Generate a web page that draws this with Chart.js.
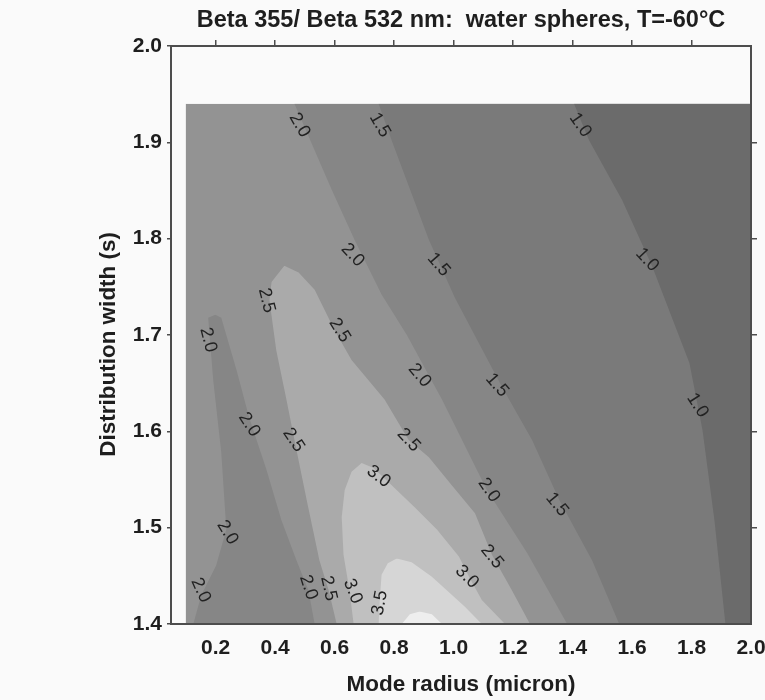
<!DOCTYPE html>
<html>
<head>
<meta charset="utf-8">
<script src="https://cdn.jsdelivr.net/npm/chart.js@4.4.1/dist/chart.umd.min.js"></script>
<style>
html,body{margin:0;padding:0;background:#fafafa;}
#wrap{width:765px;height:700px;position:relative;}
canvas{display:block;}
</style>
</head>
<body>
<div id="wrap"><canvas id="c" width="765" height="700"></canvas></div>
<script>
// ---- axis ticks ----
const xTickValues = [0.2, 0.4, 0.6, 0.8, 1.0, 1.2, 1.4, 1.6, 1.8, 2.0];
const yTickValues = [1.4, 1.5, 1.6, 1.7, 1.8, 1.9, 2.0];
const topTickValues = [0.2, 0.4, 0.6, 0.8, 1.0, 1.2, 1.4, 1.6, 1.8];
const rightTickValues = [1.5, 1.6, 1.7, 1.8, 1.9];

// ---- computed domain (mode radius x distribution width) ----
const domainX = [0.1, 2.0];
const domainY = [1.4, 1.94];

// ---- contour lines that run top to bottom: mode radius at each width ----
const c20Y = [1.400, 1.474, 1.539, 1.633, 1.700, 1.742, 1.799, 1.851, 1.940];
const c20X = [1.382, 1.247, 1.112, 0.961, 0.843, 0.758, 0.667, 0.590, 0.465];
const c15Y = [1.400, 1.466, 1.529, 1.591, 1.646, 1.739, 1.799, 1.902, 1.940];
const c15X = [1.557, 1.466, 1.355, 1.264, 1.163, 1.004, 0.917, 0.792, 0.748];
const c10Y = [1.400, 1.508, 1.601, 1.671, 1.771, 1.840, 1.902, 1.940];
const c10X = [1.914, 1.877, 1.837, 1.793, 1.668, 1.567, 1.456, 1.405];

// ---- closed "tongue" regions: left and right edges (bottom to tip) ----
const c25LeftY  = [1.400, 1.435, 1.466, 1.529, 1.591, 1.633, 1.684, 1.736, 1.755, 1.772];
const c25LeftX  = [0.607, 0.580, 0.549, 0.506, 0.465, 0.438, 0.404, 0.381, 0.388, 0.431];
const c25RightY = [1.400, 1.435, 1.472, 1.515, 1.544, 1.573, 1.591, 1.633, 1.674, 1.705, 1.747, 1.765, 1.772];
const c25RightX = [1.257, 1.196, 1.129, 1.072, 0.994, 0.917, 0.849, 0.768, 0.657, 0.600, 0.533, 0.479, 0.431];

const c30LeftY  = [1.400, 1.435, 1.472, 1.511, 1.539, 1.558, 1.567];
const c30LeftX  = [0.664, 0.650, 0.630, 0.624, 0.634, 0.657, 0.691];
const c30RightY = [1.400, 1.425, 1.449, 1.470, 1.498, 1.521, 1.544, 1.562, 1.567];
const c30RightX = [1.173, 1.095, 1.052, 1.018, 0.944, 0.870, 0.792, 0.731, 0.691];

const c35LeftY  = [1.400, 1.425, 1.451, 1.463, 1.468];
const c35LeftX  = [0.748, 0.752, 0.758, 0.779, 0.809];
const c35RightY = [1.400, 1.418, 1.435, 1.449, 1.464, 1.468];
const c35RightX = [1.095, 1.038, 0.977, 0.927, 0.859, 0.809];

const c40LeftY  = [1.400, 1.410, 1.413];
const c40LeftX  = [0.826, 0.853, 0.886];
const c40RightY = [1.400, 1.410, 1.413];
const c40RightX = [0.961, 0.927, 0.886];

// low (<2.0) strip on the left
const stripLeftY  = [1.400, 1.430, 1.461, 1.498, 1.578, 1.653, 1.718, 1.721];
const stripLeftX  = [0.125, 0.152, 0.202, 0.236, 0.219, 0.192, 0.175, 0.199];
const stripRightY = [1.400, 1.435, 1.466, 1.508, 1.560, 1.614, 1.664, 1.718, 1.721];
const stripRightX = [0.533, 0.512, 0.472, 0.421, 0.371, 0.313, 0.270, 0.219, 0.199];

// ---- contour labels ----
const labelText  = ["2.0","1.5","1.0","2.0","1.5","1.0","2.5","2.0","2.5","2.0","1.5","1.0","2.0","2.5","2.5","3.0","2.0","1.5","2.0","3.0","2.5","2.0","2.0","2.5","3.0","3.5"];
const labelX     = [0.482,0.752,1.426,0.661,0.950,1.651,0.371,0.175,0.617,0.886,1.146,1.820,0.313,0.462,0.849,0.748,1.119,1.348,0.240,1.045,1.129,0.150,0.512,0.580,0.661,0.752];
const labelY     = [1.918,1.918,1.918,1.783,1.773,1.778,1.736,1.695,1.705,1.658,1.648,1.627,1.607,1.591,1.591,1.553,1.539,1.524,1.495,1.449,1.470,1.435,1.438,1.437,1.434,1.422];
const labelAngle = [60,60,55,47,49,47,76,76,58,50,49,57,57,56,47,37,56,51,58,45,51,66,72,77,68,-80];

// ---- colours for each band ----
const colBase  = '#939393'; // 2.0 - 2.5
const col15_20 = '#868686';
const col10_15 = '#7a7a7a';
const colLt10  = '#6b6b6b';
const colStrip = '#868686';
const col25_30 = '#aaaaaa';
const col30_35 = '#c0c0c0';
const col35_40 = '#d6d6d6';
const colGt40  = '#eeeeee';

const pts = (xs, ys) => xs.map((x, i) => ({x: x, y: ys[i]}));
const common = {borderWidth: 0, pointRadius: 0, pointHoverRadius: 0, xAxisID: 'x', yAxisID: 'y', tension: 0};

const datasets = [
  {...common, data: pts(c40LeftX, c40LeftY), fill: '+1', backgroundColor: colGt40, order: 1},
  {...common, data: pts(c40RightX, c40RightY), fill: false, order: 1},
  {...common, data: pts(c35LeftX, c35LeftY), fill: '+1', backgroundColor: col35_40, order: 2},
  {...common, data: pts(c35RightX, c35RightY), fill: false, order: 2},
  {...common, data: pts(c30LeftX, c30LeftY), fill: '+1', backgroundColor: col30_35, order: 3},
  {...common, data: pts(c30RightX, c30RightY), fill: false, order: 3},
  {...common, data: pts(c25LeftX, c25LeftY), fill: '+1', backgroundColor: col25_30, order: 4},
  {...common, data: pts(c25RightX, c25RightY), fill: false, order: 4},
  {...common, data: pts(stripLeftX, stripLeftY), fill: '+1', backgroundColor: colStrip, order: 5},
  {...common, data: pts(stripRightX, stripRightY), fill: false, order: 5},
  {...common, data: pts(c10X, c10Y), fill: {value: domainX[1]}, backgroundColor: colLt10, order: 6},
  {...common, data: pts(c15X, c15Y), fill: {value: domainX[1]}, backgroundColor: col10_15, order: 7},
  {...common, data: pts(c20X, c20Y), fill: {value: domainX[1]}, backgroundColor: col15_20, order: 8},
  {...common, data: pts([domainX[1], domainX[1]], domainY), fill: {value: domainX[0]}, backgroundColor: colBase, order: 9}
];

const contourLabels = {
  id: 'contourLabels',
  afterDatasetsDraw(chart) {
    const ctx = chart.ctx, sx = chart.scales.x, sy = chart.scales.y;
    ctx.save();
    ctx.font = '18px "Liberation Sans", Arial, sans-serif';
    ctx.fillStyle = '#222222';
    ctx.textAlign = 'center';
    ctx.textBaseline = 'middle';
    for (let i = 0; i < labelText.length; i++) {
      const px = sx.getPixelForValue(labelX[i]);
      const py = sy.getPixelForValue(labelY[i]);
      ctx.save();
      ctx.translate(px, py);
      ctx.rotate(labelAngle[i] * Math.PI / 180);
      ctx.fillText(labelText[i], 0, 0);
      ctx.restore();
    }
    ctx.restore();
  }
};

const frameColor = '#4d4d4d';
const tickFont = {family: '"Liberation Sans", Arial, sans-serif', size: 21, weight: 'bold'};
const titleFont = {family: '"Liberation Sans", Arial, sans-serif', size: 22.5, weight: 'bold', lineHeight: 1.2};

new Chart(document.getElementById('c'), {
  type: 'line',
  data: {datasets},
  plugins: [contourLabels],
  options: {
    indexAxis: 'y',
    responsive: false,
    animation: false,
    events: [],
    layout: {padding: {top: 0, left: 0, right: 0, bottom: 0}},
    plugins: {
      legend: {display: false},
      tooltip: {enabled: false},
      title: {
        display: true,
        fullSize: false,
        text: 'Beta 355/ Beta 532 nm:  water spheres, T=-60°C',
        color: '#1e1e1e',
        font: {family: '"Liberation Sans", Arial, sans-serif', size: 23.5, weight: 'bold', lineHeight: 1.2},
        padding: {top: 6, bottom: 5.8}
      },
      filler: {propagate: false}
    },
    scales: {
      x: {
        type: 'linear', position: 'bottom', min: 0.05, max: 2.0,
        afterBuildTicks: s => { s.ticks = xTickValues.map(v => ({value: v})); },
        afterFit: s => { s.height = 76; s.paddingLeft = 0; s.paddingRight = 0; },
        grid: {display: true, drawOnChartArea: false, drawTicks: false},
        border: {display: true, color: frameColor, width: 2, z: 1},
        ticks: {font: tickFont, color: '#1e1e1e', padding: 12, maxRotation: 0, autoSkip: false,
                callback: v => Number(v).toFixed(1)},
        title: {display: true, text: 'Mode radius (micron)', color: '#1e1e1e', font: titleFont, padding: {top: 0, bottom: 2}}
      },
      y: {
        type: 'linear', position: 'left', min: 1.4, max: 2.0,
        afterBuildTicks: s => { s.ticks = yTickValues.map(v => ({value: v})); },
        afterFit: s => { s.width = 171; s.paddingTop = 0; s.paddingBottom = 0; },
        grid: {display: true, drawOnChartArea: false, drawTicks: true, tickLength: 4, color: frameColor, lineWidth: 1.5},
        border: {display: true, color: frameColor, width: 2, z: 1},
        ticks: {font: tickFont, color: '#1e1e1e', padding: 5, autoSkip: false,
                callback: v => Number(v).toFixed(1)},
        title: {display: true, text: 'Distribution width (s)   ', color: '#1e1e1e', font: titleFont, padding: {top: 95, bottom: 0}}
      },
      x2: {
        type: 'linear', position: 'top', min: 0.05, max: 2.0, display: true,
        afterBuildTicks: s => { s.ticks = topTickValues.map(v => ({value: v})); },
        afterFit: s => { s.height = 6; s.paddingLeft = 0; s.paddingRight = 0; },
        grid: {display: true, drawOnChartArea: false, drawTicks: true, tickLength: 6, color: frameColor, lineWidth: 1.5},
        border: {display: true, color: frameColor, width: 2, z: 1},
        ticks: {display: false}
      },
      y2: {
        type: 'linear', position: 'right', min: 1.4, max: 2.0, display: true,
        afterBuildTicks: s => { s.ticks = rightTickValues.map(v => ({value: v})); },
        afterFit: s => { s.width = 14; },
        grid: {display: true, drawOnChartArea: false, drawTicks: true, tickLength: 6, color: frameColor, lineWidth: 1.5},
        border: {display: true, color: frameColor, width: 2, z: 1},
        ticks: {display: false}
      }
    }
  }
});
</script>
</body>
</html>
